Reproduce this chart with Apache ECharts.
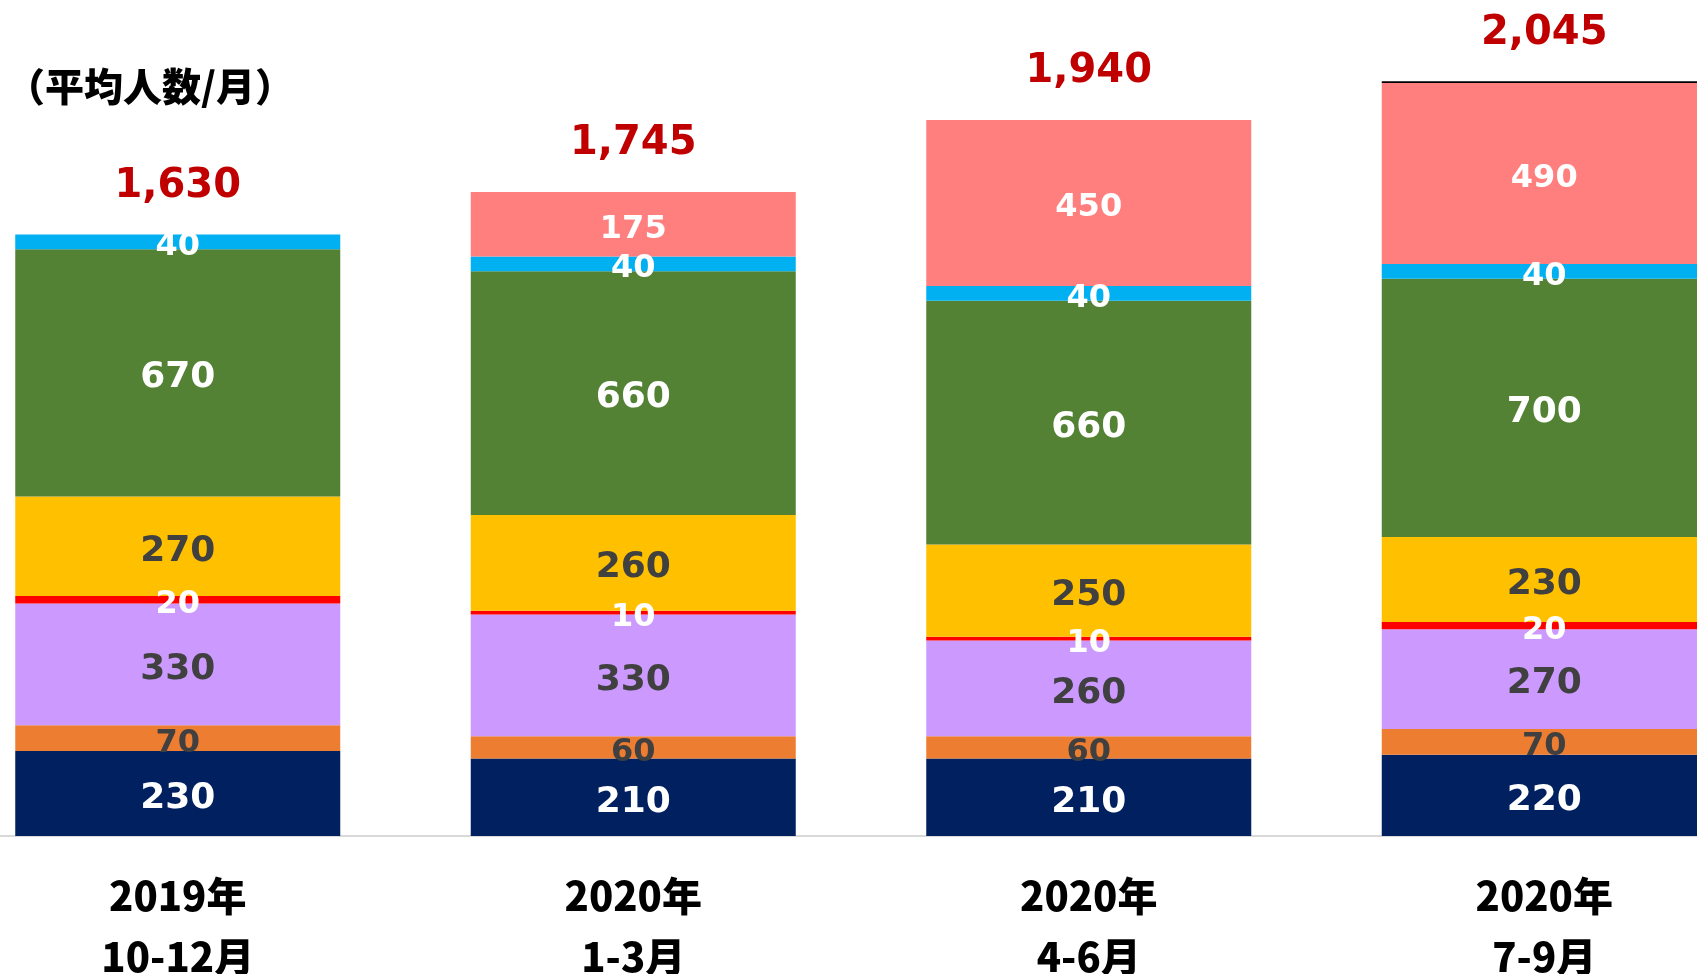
<!DOCTYPE html>
<html>
<head>
<meta charset="utf-8">
<style>
    html, body { margin: 0; padding: 0; background: #fff; }
    #chart { width: 1697px; height: 974px; }
</style>
<script src="https://cdn.jsdelivr.net/npm/echarts@6/dist/echarts.min.js"></script>
</head>
<body>
<div id="chart"></div>
<script>
const categories = ['2019年\n10-12月', '2020年\n1-3月', '2020年\n4-6月', '2020年\n7-9月']
// stacked segments, bottom to top
const navy = [230, 210, 210, 220]
const orange = [70, 60, 60, 70]
const purple = [330, 330, 260, 270]
const red = [20, 10, 10, 20]
const yellow = [270, 260, 250, 230]
const green = [670, 660, 660, 700]
const blue = [40, 40, 40, 40]
const pink = [null, 175, 450, 490]
const totals = [1630, 1745, 1940, 2045]
const totalLabels = ['1,630', '1,745', '1,940', '2,045']

const numFont = 'DejaVu Sans'
const cjkFont = 'Noto Sans CJK JP'

function seg(name, data, color, labelColor, size) {
    return {
        name: name,
        type: 'bar',
        stack: 'total',
        barWidth: 325,
        data: data,
        itemStyle: { color: color },
        label: {
            show: true,
            position: 'inside',
            offset: [0, 5],
            color: labelColor,
            fontFamily: numFont,
            fontWeight: 'bold',
            fontSize: size
        }
    }
}

// whatever the segments don't cover up to the total (shows as the thin black rule)
const sums = navy.map((v, i) => [navy, orange, purple, red, yellow, green, blue, pink]
    .reduce((s, arr) => s + (arr[i] || 0), 0))
const gap = totals.map((t, i) => t - sums[i])

const chart = echarts.init(document.getElementById('chart'))
chart.setOption({
    animation: false,
    title: {
        text: '（平均人数/月）',
        left: 6,
        top: 67,
        padding: 0,
        textStyle: {
            fontFamily: cjkFont,
            fontWeight: 900,
            fontSize: 39,
            color: '#000'
        }
    },
    grid: {
        left: -50,
        right: -75,
        top: 24,
        bottom: 138,
        outerBoundsMode: 'none'
    },
    xAxis: {
        type: 'category',
        data: categories,
        axisTick: { show: false },
        axisLine: { lineStyle: { color: '#d9d9d9', width: 2 } },
        axisLabel: {
            margin: 29,
            color: '#000',
            fontFamily: cjkFont,
            fontWeight: 900,
            fontSize: 40,
            lineHeight: 61
        }
    },
    yAxis: {
        type: 'value',
        min: 0,
        max: 2200,
        show: false,
        splitLine: { show: false }
    },
    series: [
        seg('navy', navy, '#002060', '#fff', 36),
        seg('orange', orange, '#ED7D31', '#404040', 32),
        seg('purple', purple, '#CC99FF', '#404040', 36),
        seg('red', red, '#FF0000', '#fff', 32),
        seg('yellow', yellow, '#FFC000', '#404040', 36),
        seg('green', green, '#548235', '#fff', 36),
        seg('blue', blue, '#00B0F0', '#fff', 32),
        seg('pink', pink, '#FF7F7F', '#fff', 32),
        {
            name: 'gap',
            type: 'bar',
            stack: 'total',
            barWidth: 325,
            data: gap,
            itemStyle: { color: '#000' },
            label: {
                show: true,
                position: 'top',
                distance: 28,
                formatter: p => totalLabels[p.dataIndex],
                color: '#C00000',
                fontFamily: numFont,
                fontWeight: 'bold',
                fontSize: 40
            }
        }
    ]
})
</script>
</body>
</html>
